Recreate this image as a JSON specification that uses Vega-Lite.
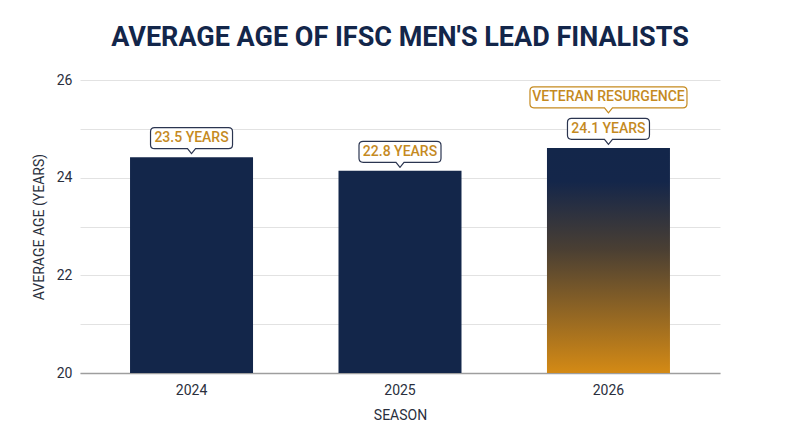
{
  "$schema": "https://vega.github.io/schema/vega-lite/v6.json",
  "autosize": {"type": "none"},
  "padding": {"left": 80, "top": 80, "right": 80, "bottom": 74},
  "width": 640,
  "height": 293,
  "background": "white",
  "title": {
    "text": "AVERAGE AGE OF IFSC MEN'S LEAD FINALISTS",
    "anchor": "middle",
    "font": "Roboto",
    "fontSize": 27,
    "fontWeight": "bold",
    "color": "#13264a",
    "baseline": "alphabetic",
    "offset": 0
  },
  "data": {
    "values": [
      {"season": "2024", "age": 24.42, "label": "23.5 YEARS", "note": null},
      {"season": "2025", "age": 24.14, "label": "22.8 YEARS", "note": null},
      {"season": "2026", "age": 24.61, "label": "24.1 YEARS", "note": "VETERAN RESURGENCE"}
    ]
  },
  "encoding": {
    "x": {
      "field": "season",
      "type": "nominal",
      "title": "SEASON",
      "scale": {"paddingInner": 0.41, "paddingOuter": 0.24},
      "axis": {
        "labelAngle": 0,
        "domainColor": "#9e9e9e",
        "domainWidth": 1.5,
        "ticks": false,
        "labelPadding": 10,
        "titlePadding": 11
      }
    },
    "y": {
      "field": "age",
      "type": "quantitative",
      "title": "AVERAGE AGE (YEARS)",
      "scale": {"domain": [20, 26], "zero": false, "nice": false},
      "axis": {
        "values": [20, 21, 22, 23, 24, 25, 26],
        "labelExpr": "datum.value % 2 === 0 ? datum.label : ''",
        "domain": false,
        "ticks": false,
        "grid": true,
        "gridColor": "#e2e2e2",
        "labelPadding": 8,
        "titlePadding": 10
      }
    }
  },
  "layer": [
    {
      "transform": [{"filter": "datum.season !== '2026'"}],
      "mark": {"type": "bar", "color": "#13264a"},
      "encoding": {"y2": {"datum": 20}}
    },
    {
      "transform": [{"filter": "datum.season === '2026'"}],
      "mark": {
        "type": "bar",
        "color": {
          "gradient": "linear",
          "x1": 0, "y1": 0, "x2": 0, "y2": 1,
          "stops": [
            {"offset": 0, "color": "#13264a"},
            {"offset": 0.15, "color": "#14264a"},
            {"offset": 0.45, "color": "#4a3f33"},
            {"offset": 1, "color": "#d48a15"}
          ]
        }
      },
      "encoding": {"y2": {"datum": 20}}
    },
    {
      "mark": {
        "type": "point",
        "shape": "M0,0L-0.098,-0.122L-0.9,-0.122Q-1,-0.122,-1,-0.22L-1,-0.536Q-1,-0.634,-0.9,-0.634L0.9,-0.634Q1,-0.634,1,-0.536L1,-0.22Q1,-0.122,0.9,-0.122L0.098,-0.122Z",
        "size": 6724,
        "filled": true,
        "fill": "white",
        "stroke": "#2b3550",
        "strokeWidth": 1.2,
        "opacity": 1,
        "yOffset": -3.5
      }
    },
    {
      "mark": {
        "type": "text",
        "font": "Roboto",
        "fontSize": 14,
        "fontWeight": 500,
        "color": "#c58a1f",
        "baseline": "middle",
        "yOffset": -19
      },
      "encoding": {"text": {"field": "label"}}
    },
    {
      "transform": [{"filter": "datum.note != null"}],
      "mark": {
        "type": "point",
        "shape": "M0,0L-0.051,-0.064L-0.949,-0.064Q-1,-0.064,-1,-0.115L-1,-0.28Q-1,-0.331,-0.949,-0.331L0.949,-0.331Q1,-0.331,1,-0.28L1,-0.115Q1,-0.064,0.949,-0.064L0.051,-0.064Z",
        "size": 24649,
        "filled": true,
        "fill": "white",
        "stroke": "#c58a1f",
        "strokeWidth": 1.2,
        "opacity": 1,
        "yOffset": -35
      }
    },
    {
      "transform": [{"filter": "datum.note != null"}],
      "mark": {
        "type": "text",
        "font": "Roboto",
        "fontSize": 14,
        "fontWeight": 500,
        "color": "#c58a1f",
        "baseline": "middle",
        "yOffset": -50.5
      },
      "encoding": {"text": {"field": "note"}}
    }
  ],
  "config": {
    "view": {"stroke": null},
    "axis": {
      "labelFont": "Roboto",
      "labelFontSize": 14,
      "labelColor": "#2a2f3d",
      "titleFont": "Roboto",
      "titleFontSize": 14,
      "titleFontWeight": "normal",
      "titleColor": "#2a2f3d"
    }
  }
}
